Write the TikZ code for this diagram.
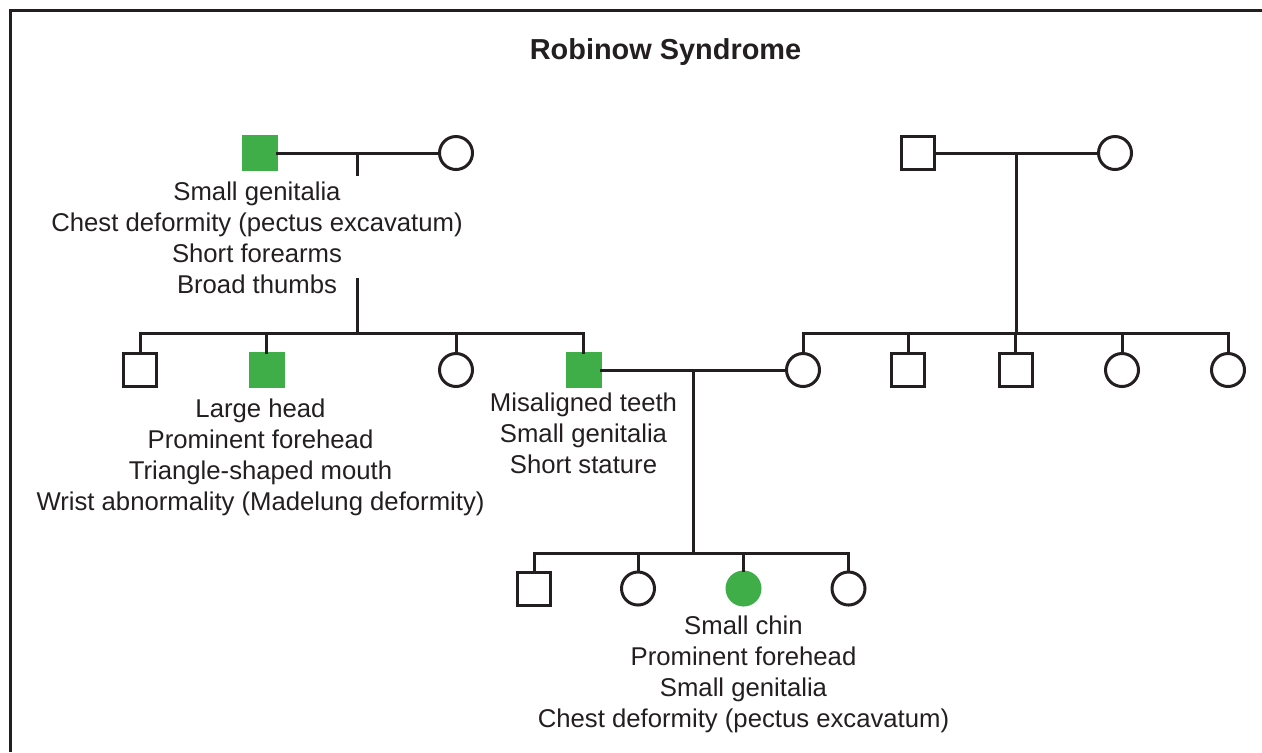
\documentclass[tikz,border=0pt]{standalone}
\usepackage{fontspec}
\setmainfont{Liberation Sans}
\usetikzlibrary{positioning,calc}

\definecolor{affgreen}{RGB}{63,174,73}
\definecolor{inkgray}{RGB}{35,31,32}

\tikzset{
  male/.style={rectangle, draw=inkgray, line width=1.5pt, minimum size=16.5pt, inner sep=0, outer sep=0},
  female/.style={circle, draw=inkgray, line width=1.5pt, minimum size=16.5pt, inner sep=0, outer sep=0},
  affected/.style={draw=affgreen, fill=affgreen},
  traits/.style={align=center, inner sep=0, outer sep=0, text=inkgray,
    font=\fontsize{12.85pt}{15.5pt}\selectfont},
  link/.style={draw=inkgray, line width=1.5pt},
}

\begin{document}
\begin{tikzpicture}[x=0.5pt,y=-0.5pt]
  \useasboundingbox (0,0) rectangle (1262,752);
  \draw[inkgray, line width=1.5pt] (10,752) -- (10,10.5) -- (1262,10.5);

  \node[text=inkgray, font=\bfseries\fontsize{14.45pt}{17pt}\selectfont] (title) at (665.5,52) {Robinow Syndrome};

  % first generation
  \node[male, affected] (gf1) at (259.5,153) {};
  \node[female] (gm1) at (456,153) {};
  \node[male] (gf2) at (917.5,153) {};
  \node[female] (gm2) at (1115,153) {};

  % second generation
  \node[male] (s1) at (140,370) {};
  \node[male, affected] (s2) at (266.5,370) {};
  \node[female] (s3) at (456,370) {};
  \node[male, affected] (s4) at (583.5,370) {};
  \node[female] (w) at (803,370) {};
  \node[male] (b1) at (908,370) {};
  \node[male] (b2) at (1015.5,370) {};
  \node[female] (b3) at (1122,370) {};
  \node[female] (b4) at (1228,370) {};

  % third generation
  \node[male] (c1) at (534,588.5) {};
  \node[female] (c2) at (638,588.5) {};
  \node[female, affected] (c3) at (743.5,588.5) {};
  \node[female] (c4) at (848.5,588.5) {};

  \coordinate (g2row) at (0,333.5);
  \coordinate (g3row) at (0,553);

  % couples
  \draw[link] (gf1) -- (gm1);
  \draw[link] (gf2) -- (gm2);
  \draw[link] (s4) -- (w);
  \coordinate (m1) at ($(gf1)!0.5!(gm1)$);
  \coordinate (m2) at ($(gf2)!0.5!(gm2)$);
  \coordinate (m3) at ($(s4)!0.5!(w)$);

  % sibships
  \draw[link] (s1.north) -- (s1 |- g2row) -- (s4 |- g2row) -- (s4.north);
  \foreach \k in {s2,s3} \draw[link] (\k.north) -- (\k |- g2row);
  \draw[link] (w.north) -- (w |- g2row) -- (b4 |- g2row) -- (b4.north);
  \foreach \k in {b1,b2,b3} \draw[link] (\k.north) -- (\k |- g2row);
  \draw[link] (c1.north) -- (c1 |- g3row) -- (c4 |- g3row) -- (c4.north);
  \foreach \k in {c2,c3} \draw[link] (\k.north) -- (\k |- g3row);

  % descent lines
  \draw[link] (m1) -- ++(0,23);
  \draw[link] (m1 |- g2row) -- ++(0,-55.5);
  \draw[link] (m2) -- (m2 |- g2row);
  \draw[link] (m3) -- (m3 |- g3row);

  % clinical features
  \node[traits, below=6pt of gf1, xshift=-1.25pt] (tgf1) {Small genitalia\\Chest deformity (pectus excavatum)\\Short forearms\\Broad thumbs};
  \node[traits, below=6pt of s2, xshift=-3pt] (ts2) {Large head\\Prominent forehead\\Triangle-shaped mouth\\Wrist abnormality (Madelung deformity)};
  \node[traits, below=3pt of s4] (ts4) {Misaligned teeth\\Small genitalia\\Short stature};
  \node[traits, below=5.25pt of c3] (tc3) {Small chin\\Prominent forehead\\Small genitalia\\Chest deformity (pectus excavatum)};
\end{tikzpicture}
\end{document}
